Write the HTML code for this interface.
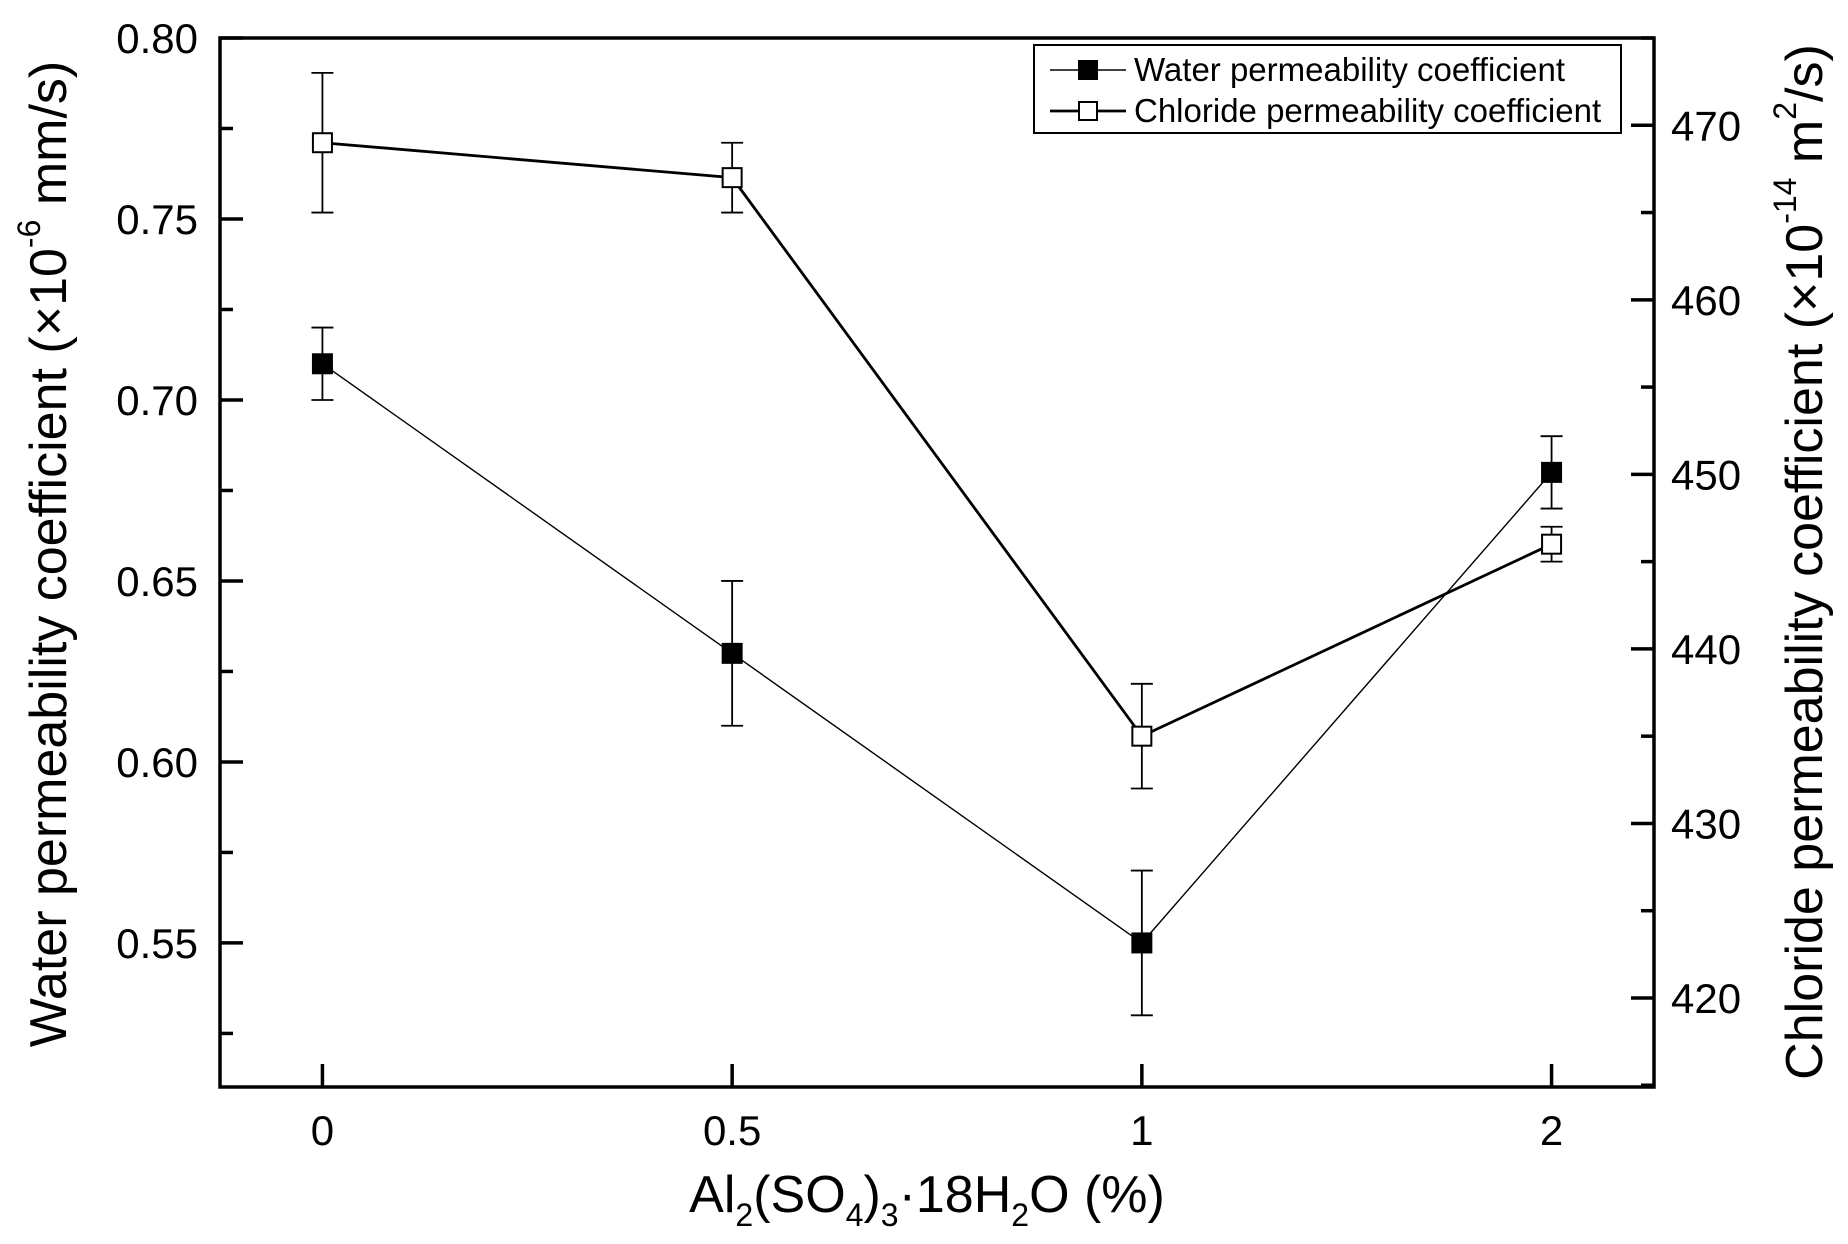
<!DOCTYPE html>
<html><head><meta charset="utf-8"><style>
html,body{margin:0;padding:0;background:#fff;}
svg{display:block;font-family:"Liberation Sans",Arial,sans-serif;}
</style></head><body>
<svg id="chart" width="1848" height="1244" viewBox="0 0 1848 1244"></svg>
<script>
const categories = ["0","0.5","1","2"];
const waterValues = [0.71, 0.63, 0.55, 0.68];
const waterErrors = [0.01, 0.02, 0.02, 0.01];
const chlorideValues = [469, 467, 435, 446];
const chlorideErrors = [4, 2, 3, 1];
const leftTicks = [0.55, 0.60, 0.65, 0.70, 0.75, 0.80];
const leftTickLabels = ["0.55","0.60","0.65","0.70","0.75","0.80"];
const rightTicks = [420, 430, 440, 450, 460, 470];
const rightTickLabels = ["420","430","440","450","460","470"];

const NS = "http://www.w3.org/2000/svg";
const svg = document.getElementById('chart');
const L = 220, R = 1654, T = 38, B = 1087;
const leftMin = 0.5102, leftMax = 0.80;
const rightMin = 414.9, rightMax = 475;
function xS(i){ return L + (R - L) * (i + 0.25) / (categories.length - 0.5); }
function yL(v){ return B - (v - leftMin) / (leftMax - leftMin) * (B - T); }
function yR(v){ return B - (v - rightMin) / (rightMax - rightMin) * (B - T); }
function mk(tag, attrs, parent){
  const e = document.createElementNS(NS, tag);
  for (const k in attrs) e.setAttribute(k, attrs[k]);
  (parent || svg).appendChild(e);
  return e;
}

const frame = mk('rect', {x:L, y:T, width:R-L, height:B-T, fill:'none', stroke:'#000', 'stroke-width':3.5});



for (let k = 21; k <= 32; k++) {
  const v = k * 0.025;
  const major = k % 2 === 0;
  const t = mk('line', {x1:L, x2:L + (major ? 23 : 13), y1:yL(v), y2:yL(v), stroke:'#000', 'stroke-width':3.5});
  
  
}
leftTicks.forEach((v, i) => {
  const t = mk('text', {x:198, y:yL(v) + 15, 'text-anchor':'end', 'font-size':42});
  t.textContent = leftTickLabels[i];
  
  
});
for (let v = 415; v <= 475; v += 5) {
  const major = v % 10 === 0;
  const t = mk('line', {x1:R, x2:R - (major ? 23 : 13), y1:yR(v), y2:yR(v), stroke:'#000', 'stroke-width':3.5});
  
  
}
rightTicks.forEach((v, i) => {
  const t = mk('text', {x:1671, y:yR(v) + 15, 'text-anchor':'start', 'font-size':42});
  t.textContent = rightTickLabels[i];
  
  
});
categories.forEach((c, i) => {
  const t = mk('line', {x1:xS(i), x2:xS(i), y1:B, y2:B - 23, stroke:'#000', 'stroke-width':3.5});
  
  
  const l = mk('text', {x:xS(i), y:1145, 'text-anchor':'middle', 'font-size':42});
  l.textContent = c;
  
  
});

function series(vals, errs, yf, filled, lw, name){
  const g = mk('g', {});
  
  
  const pts = vals.map((v, i) => xS(i) + ',' + yf(v)).join(' ');
  const pl = mk('polyline', {points:pts, fill:'none', stroke:'#000', 'stroke-width':lw}, g);
  
  
  vals.forEach((v, i) => {
    const x = xS(i), yt = yf(v + errs[i]), yb = yf(v - errs[i]);
    const eb = mk('path', {d:`M${x},${yt}V${yb}M${x-11},${yt}H${x+11}M${x-11},${yb}H${x+11}`, stroke:'#000', 'stroke-width':1.8, fill:'none'}, g);
    
    
    const m = mk('rect', {x:x-9.5, y:yf(v)-9.5, width:19, height:19, fill:filled ? '#000' : '#fff', stroke:'#000', 'stroke-width':2}, g);
    
    
  });
}
series(chlorideValues, chlorideErrors, yR, false, 2.8, 'chloride');
series(waterValues, waterErrors, yL, true, 1.4, 'water');

const lg = mk('g', {});


mk('rect', {x:1034, y:45, width:587, height:88, fill:'#fff', stroke:'#000', 'stroke-width':2}, lg);
[[70, true, 1.4, 'Water permeability coefficient'], [111, false, 2.8, 'Chloride permeability coefficient']].forEach(([y, f, w, txt]) => {
  const e = mk('g', {}, lg);
  
  
  mk('line', {x1:1050, x2:1126, y1:y, y2:y, stroke:'#000', 'stroke-width':w}, e);
  mk('rect', {x:1079, y:y-9, width:18, height:18, fill:f ? '#000' : '#fff', stroke:'#000', 'stroke-width':2}, e);
  const t = mk('text', {x:1134, y:y+11, 'font-size':33}, e);
  t.textContent = txt;
});

const lt = mk('text', {transform:'translate(66,554) rotate(-90)', 'text-anchor':'middle', 'font-size':52});


lt.innerHTML = 'Water permeability coefficient (×10<tspan dy="-26" font-size="32">-6</tspan><tspan dy="26"> mm/s)</tspan>';
const rt = mk('text', {transform:'translate(1822,562) rotate(-90)', 'text-anchor':'middle', 'font-size':52});


rt.innerHTML = 'Chloride permeability coefficient (×10<tspan dy="-26" font-size="32">-14</tspan><tspan dy="26"> m</tspan><tspan dy="-26" font-size="32">2</tspan><tspan dy="26">/s)</tspan>';
const xt = mk('text', {x:927, y:1212, 'text-anchor':'middle', 'font-size':52});


xt.innerHTML = 'Al<tspan dy="14" font-size="32">2</tspan><tspan dy="-14">(SO</tspan><tspan dy="14" font-size="32">4</tspan><tspan dy="-14">)</tspan><tspan dy="14" font-size="32">3</tspan><tspan dy="-14">·18H</tspan><tspan dy="14" font-size="32">2</tspan><tspan dy="-14">O (%)</tspan>';
</script>
</body></html>
